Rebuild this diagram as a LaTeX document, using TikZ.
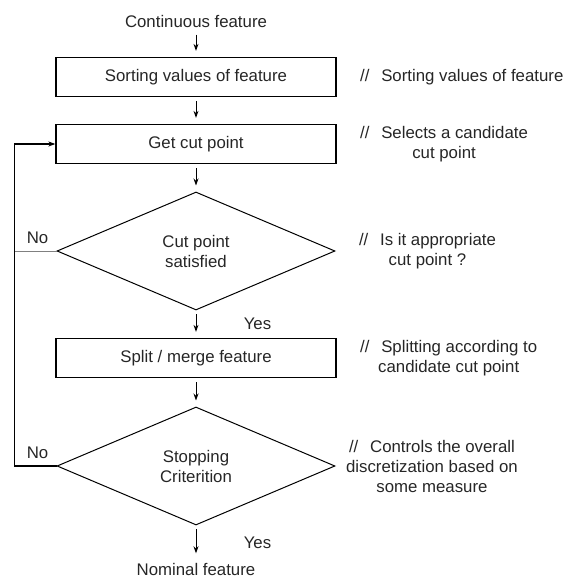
\documentclass[tikz,border=0pt]{standalone}
\usepackage{fontspec}
\setmainfont{Liberation Sans}
\usetikzlibrary{shapes.geometric}
\usetikzlibrary{positioning}
\usetikzlibrary{arrows.meta}

\begin{document}
\begin{tikzpicture}[>={Stealth[length=7pt,width=5pt]},x=1pt,y=1pt,node distance=107pt,
	font=\fontsize{16.8}{20}\selectfont,text=black!85,
	box node/.style={rectangle,draw=black,line width=1.3pt,minimum width=280pt,minimum height=39pt},
	test node/.style={diamond,draw=black,line width=1pt,aspect=2.36,minimum width=278pt,
		minimum height=118pt,inner sep=0pt,align=center},
	note node/.style={align=center},
	flow/.style={->,line width=.9pt,shorten >=6pt,shorten <=4pt}]
	
	\useasboundingbox (0,0) rectangle (566,579);
	
	\node (cont) at (196,558) {Continuous feature};
	\node[box node] (sort) [below of=cont,node distance=56pt] {Sorting values of feature};
	\node[box node] (getcut) [below of=sort,node distance=67pt] {Get cut point};
	\node[test node] (cutok) [below of=getcut] {Cut point\\satisfied};
	\node[box node] (split) [below of=cutok] {Split / merge feature};
	\node[test node] (stop) [below of=split,node distance=108pt] {Stopping\\Criterition};
	\node (nominal) [below of=stop,node distance=103pt] {Nominal feature};
	
	% comments on the right
	\node[note node] (nsort) [right=20pt of sort] {//\hspace{.7em}Sorting values of feature};
	\node[note node] (ngetcut) [right=20pt of getcut] {//\hspace{.7em}Selects a candidate\\cut point};
	\node[note node] (ncutok) [right=20pt of cutok] {//\hspace{.7em}Is it appropriate\\cut point ?};
	\node[note node] (nsplit) [right=20pt of split] {//\hspace{.7em}Splitting according to\\candidate cut point};
	\node[note node] (nstop) [right=7pt of stop] {//\hspace{.7em}Controls the overall\\discretization based on\\some measure};
	
	\coordinate (back) at ([xshift=-42pt]stop.west);
	
	\draw[flow] (cont) -- (sort);
	\draw[flow] (sort) -- (getcut);
	\draw[flow] (getcut) -- (cutok);
	\draw[flow] (cutok) -- node[right=44pt] {Yes} (split);
	\draw[flow] (split) -- (stop);
	\draw[flow] (stop) -- node[right=44pt] {Yes} (nominal);
	
	\draw[->,line width=1.2pt] (stop.west) -- node[above=3pt,xshift=2pt] {No} (back) |- (getcut.west);
	\draw[gray,line width=.8pt] (cutok.west) -- node[above=4pt,xshift=2pt,text=black!85] {No} (cutok.west -| back);
\end{tikzpicture}
\end{document}
